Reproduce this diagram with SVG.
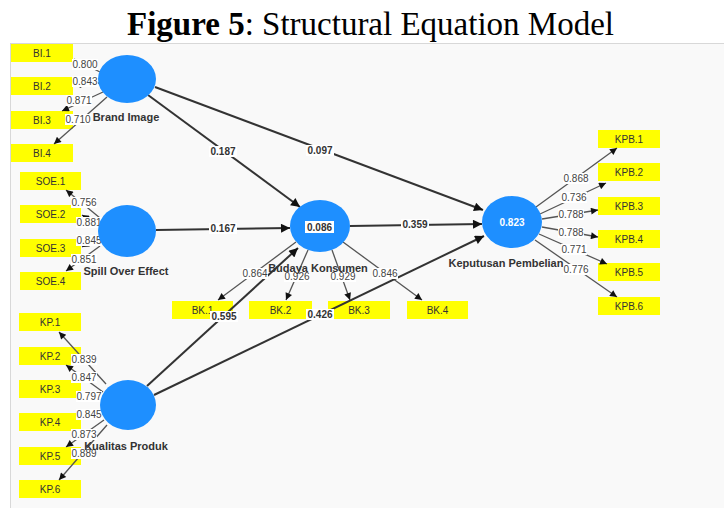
<svg xmlns="http://www.w3.org/2000/svg" width="724" height="508" viewBox="0 0 724 508">
<style>
.t{font-family:"Liberation Serif",serif;font-size:33px;fill:#000}
.ind rect{fill:#ffff00}
.ind text{font-family:"Liberation Sans",Arial,sans-serif;font-size:10px;fill:#333;text-anchor:middle}
.lat ellipse{fill:#1e8fff}
.ln{font-family:"Liberation Sans",Arial,sans-serif;font-size:11px;font-weight:bold;fill:#333;text-anchor:middle}
.m{stroke:#555;stroke-width:1.3;fill:none;marker-end:url(#am)}
.s{stroke:#333;stroke-width:2;fill:none;marker-end:url(#as)}
.lb{fill:#fff}
.ld{font-family:"Liberation Sans",Arial,sans-serif;font-size:10px;fill:#444;text-anchor:middle}
.pc{font-family:"Liberation Sans",Arial,sans-serif;font-size:10px;font-weight:bold;fill:#333;text-anchor:middle}
</style>
<defs>
<marker id="am" viewBox="0 0 10 10" refX="10" refY="5" markerWidth="9" markerHeight="7" markerUnits="userSpaceOnUse" orient="auto"><path d="M0,0 L10,5 L0,10 z" fill="#111"/></marker>
<marker id="as" viewBox="0 0 10 10" refX="10" refY="5" markerWidth="11" markerHeight="9" markerUnits="userSpaceOnUse" orient="auto"><path d="M0,0 L10,5 L0,10 z" fill="#111"/></marker>
</defs>
<rect x="0" y="0" width="724" height="508" fill="#fff"/>
<text class="t" x="127" y="35"><tspan font-weight="bold">Figure 5</tspan>: Structural Equation Model</text>
<rect x="10.5" y="43.5" width="714" height="465" fill="#f9f9f9" stroke="#d8d8d8" stroke-width="1"/>

<g id="BI.1" class="ind"><rect x="11" y="44" width="62" height="18"/><text x="42" y="56.5">BI.1</text></g>
<g id="BI.2" class="ind"><rect x="11" y="77" width="62" height="18"/><text x="42" y="89.5">BI.2</text></g>
<g id="BI.3" class="ind"><rect x="11" y="111" width="62" height="18"/><text x="42" y="123.5">BI.3</text></g>
<g id="BI.4" class="ind"><rect x="11" y="144" width="62" height="18"/><text x="42" y="156.5">BI.4</text></g>
<g id="SOE.1" class="ind"><rect x="20" y="172" width="61" height="18"/><text x="50.5" y="184.5">SOE.1</text></g>
<g id="SOE.2" class="ind"><rect x="20" y="205" width="61" height="18"/><text x="50.5" y="217.5">SOE.2</text></g>
<g id="SOE.3" class="ind"><rect x="20" y="239" width="61" height="18"/><text x="50.5" y="251.5">SOE.3</text></g>
<g id="SOE.4" class="ind"><rect x="20" y="272" width="61" height="18"/><text x="50.5" y="284.5">SOE.4</text></g>
<g id="KP.1" class="ind"><rect x="19" y="313" width="62" height="18"/><text x="50" y="325.5">KP.1</text></g>
<g id="KP.2" class="ind"><rect x="19" y="347" width="62" height="18"/><text x="50" y="359.5">KP.2</text></g>
<g id="KP.3" class="ind"><rect x="19" y="380" width="62" height="18"/><text x="50" y="392.5">KP.3</text></g>
<g id="KP.4" class="ind"><rect x="19" y="413" width="62" height="18"/><text x="50" y="425.5">KP.4</text></g>
<g id="KP.5" class="ind"><rect x="19" y="447" width="62" height="18"/><text x="50" y="459.5">KP.5</text></g>
<g id="KP.6" class="ind"><rect x="19" y="480" width="62" height="18"/><text x="50" y="492.5">KP.6</text></g>
<g id="BK.1" class="ind"><rect x="172" y="301" width="61" height="18"/><text x="202.5" y="313.5">BK.1</text></g>
<g id="BK.2" class="ind"><rect x="249" y="301" width="63" height="18"/><text x="280.5" y="313.5">BK.2</text></g>
<g id="BK.3" class="ind"><rect x="328" y="301" width="62" height="18"/><text x="359" y="313.5">BK.3</text></g>
<g id="BK.4" class="ind"><rect x="407" y="301" width="61" height="18"/><text x="437.5" y="313.5">BK.4</text></g>
<g id="KPB.1" class="ind"><rect x="598" y="130" width="62" height="18"/><text x="629" y="142.5">KPB.1</text></g>
<g id="KPB.2" class="ind"><rect x="598" y="163" width="62" height="18"/><text x="629" y="175.5">KPB.2</text></g>
<g id="KPB.3" class="ind"><rect x="598" y="197" width="62" height="18"/><text x="629" y="209.5">KPB.3</text></g>
<g id="KPB.4" class="ind"><rect x="598" y="230" width="62" height="18"/><text x="629" y="242.5">KPB.4</text></g>
<g id="KPB.5" class="ind"><rect x="598" y="263" width="62" height="18"/><text x="629" y="275.5">KPB.5</text></g>
<g id="KPB.6" class="ind"><rect x="598" y="297" width="62" height="18"/><text x="629" y="309.5">KPB.6</text></g>

<g id="connectors">
<line class="m" x1="100" y1="72" x2="74" y2="59"/>
<line class="m" x1="99" y1="83" x2="74" y2="85"/>
<line class="m" x1="103" y1="92" x2="62" y2="111"/>
<line class="m" x1="107" y1="97" x2="54" y2="144"/>
<line class="m" x1="100" y1="218" x2="66" y2="190"/>
<line class="m" x1="98" y1="225" x2="82" y2="215"/>
<line class="m" x1="98" y1="238" x2="82" y2="247"/>
<line class="m" x1="100" y1="246" x2="66" y2="271"/>
<line class="m" x1="106" y1="384" x2="59" y2="332"/>
<line class="m" x1="103" y1="392" x2="66" y2="365"/>
<line class="m" x1="100" y1="400" x2="82" y2="393"/>
<line class="m" x1="100" y1="410" x2="82" y2="417"/>
<line class="m" x1="104" y1="420" x2="66" y2="447"/>
<line class="m" x1="107" y1="425" x2="59" y2="480"/>
<line class="m" x1="296" y1="242" x2="218" y2="300"/>
<line class="m" x1="308" y1="250" x2="286" y2="300"/>
<line class="m" x1="332" y1="250" x2="350" y2="300"/>
<line class="m" x1="343" y1="242" x2="422" y2="300"/>
<line class="m" x1="536" y1="207" x2="617" y2="148"/>
<line class="m" x1="540" y1="214" x2="606" y2="183"/>
<line class="m" x1="542" y1="219" x2="598" y2="210"/>
<line class="m" x1="542" y1="227" x2="598" y2="237"/>
<line class="m" x1="539" y1="234" x2="607" y2="264"/>
<line class="m" x1="535" y1="240" x2="617" y2="297"/>
<line class="s" x1="148" y1="95" x2="300" y2="207"/>
<line class="s" x1="155" y1="87" x2="483" y2="210"/>
<line class="s" x1="156" y1="230" x2="290" y2="228"/>
<line class="s" x1="350" y1="226" x2="482" y2="224"/>
<line class="s" x1="147" y1="386" x2="298" y2="248"/>
<line class="s" x1="154" y1="395" x2="484" y2="236"/>
</g>

<g id="loadings">
<rect class="lb" x="72" y="59" width="26" height="11"/><text class="ld" x="85" y="68">0.800</text>
<rect class="lb" x="72" y="76" width="26" height="11"/><text class="ld" x="85" y="85">0.843</text>
<rect class="lb" x="66" y="95" width="26" height="11"/><text class="ld" x="79" y="104">0.871</text>
<rect class="lb" x="65" y="114" width="26" height="11"/><text class="ld" x="78" y="123">0.710</text>
<rect class="lb" x="71" y="197" width="26" height="11"/><text class="ld" x="84" y="206">0.756</text>
<rect class="lb" x="76" y="217" width="26" height="11"/><text class="ld" x="89" y="226">0.881</text>
<rect class="lb" x="76" y="235" width="26" height="11"/><text class="ld" x="89" y="244">0.845</text>
<rect class="lb" x="71" y="254" width="26" height="11"/><text class="ld" x="84" y="263">0.851</text>
<rect class="lb" x="71" y="354" width="26" height="11"/><text class="ld" x="84" y="363">0.839</text>
<rect class="lb" x="71" y="372" width="26" height="11"/><text class="ld" x="84" y="381">0.847</text>
<rect class="lb" x="76" y="391" width="26" height="11"/><text class="ld" x="89" y="400">0.797</text>
<rect class="lb" x="76" y="409" width="26" height="11"/><text class="ld" x="89" y="418">0.845</text>
<rect class="lb" x="71" y="429" width="26" height="11"/><text class="ld" x="84" y="438">0.873</text>
<rect class="lb" x="71" y="448" width="26" height="11"/><text class="ld" x="84" y="457">0.889</text>
<rect class="lb" x="242" y="268" width="26" height="11"/><text class="ld" x="255" y="277">0.864</text>
<rect class="lb" x="284" y="271" width="26" height="11"/><text class="ld" x="297" y="280">0.926</text>
<rect class="lb" x="330" y="271" width="26" height="11"/><text class="ld" x="343" y="280">0.929</text>
<rect class="lb" x="372" y="268" width="26" height="11"/><text class="ld" x="385" y="277">0.846</text>
<rect class="lb" x="563" y="173" width="26" height="11"/><text class="ld" x="576" y="182">0.868</text>
<rect class="lb" x="561" y="192" width="26" height="11"/><text class="ld" x="574" y="201">0.736</text>
<rect class="lb" x="558" y="209" width="26" height="11"/><text class="ld" x="571" y="218">0.788</text>
<rect class="lb" x="558" y="227" width="26" height="11"/><text class="ld" x="571" y="236">0.788</text>
<rect class="lb" x="561" y="244" width="26" height="11"/><text class="ld" x="574" y="253">0.771</text>
<rect class="lb" x="563" y="264" width="26" height="11"/><text class="ld" x="576" y="273">0.776</text>
</g>

<g id="paths">
<rect class="lb" x="209" y="146" width="28" height="11"/><text class="pc" x="223" y="155">0.187</text>
<rect class="lb" x="306" y="145" width="28" height="11"/><text class="pc" x="320" y="154">0.097</text>
<rect class="lb" x="209" y="223" width="28" height="11"/><text class="pc" x="223" y="232">0.167</text>
<rect class="lb" x="401" y="219" width="28" height="11"/><text class="pc" x="415" y="228">0.359</text>
<rect class="lb" x="210" y="311" width="28" height="11"/><text class="pc" x="224" y="320">0.595</text>
<rect class="lb" x="306" y="309" width="28" height="11"/><text class="pc" x="320" y="318">0.426</text>
</g>

<g id="BrandImage" class="lat"><ellipse cx="127" cy="79" rx="29" ry="24"/><text class="ln" x="126" y="121">Brand Image</text></g>
<g id="SpillOverEffect" class="lat"><ellipse cx="127" cy="231" rx="29" ry="26"/><text class="ln" x="126" y="275">Spill Over Effect</text></g>
<g id="KualitasProduk" class="lat"><ellipse cx="128" cy="405" rx="28" ry="25"/><text class="ln" x="126" y="450">Kualitas Produk</text></g>
<g id="BudayaKonsumen" class="lat"><ellipse cx="320" cy="226" rx="30" ry="26"/><rect x="305" y="221" width="29" height="12" fill="#fff"/><text class="pc" x="319.5" y="231">0.086</text><text class="ln" x="318" y="272">Budaya Konsumen</text></g>
<g id="KeputusanPembelian" class="lat"><ellipse cx="512" cy="222" rx="30" ry="26"/><text class="pc" x="512" y="226" style="fill:#fff">0.823</text><text class="ln" x="506" y="267">Keputusan Pembelian</text></g>
</svg>
